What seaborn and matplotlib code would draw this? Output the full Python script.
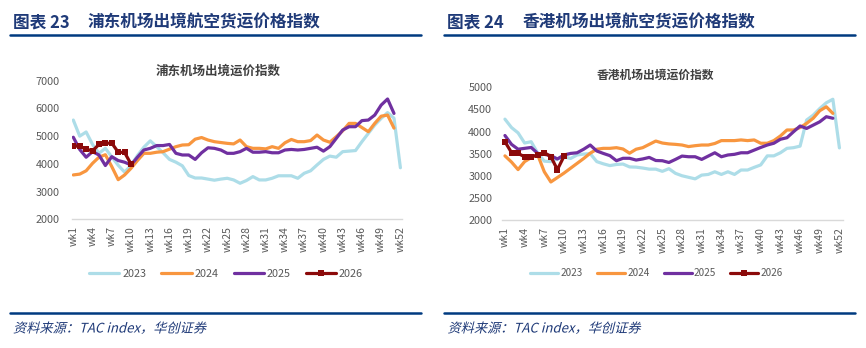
import numpy as np
import pandas as pd
import matplotlib
matplotlib.use("Agg")
import matplotlib.pyplot as plt
import seaborn as sns
from matplotlib.lines import Line2D
from matplotlib.patheffects import AbstractPathEffect
from matplotlib.transforms import Affine2D

# ---------------- data ----------------
weeks = [f"wk{i}" for i in range(1, 53)]
tick_weeks = [f"wk{i}" for i in range(1, 53, 3)]
years = ["2023", "2024", "2025", "2026"]

pvg_2023 = [5580, 5000, 5150, 4700, 4380, 4560, 4250, 3950, 3700, 3950, 4300, 4600, 4830,
            4620, 4400, 4160, 4060, 3930, 3580, 3490, 3490, 3450, 3410, 3450, 3480, 3420,
            3300, 3400, 3540, 3420, 3420, 3480, 3570, 3570, 3570, 3480, 3660, 3750, 3960,
            4160, 4280, 4240, 4440, 4460, 4480, 4800, 5100, 5400, 5640, 5850, 5650, 3860]
pvg_2024 = [3600, 3630, 3750, 4020, 4240, 4330, 3900, 3430, 3600, 3840, 4120, 4380, 4380,
            4420, 4440, 4530, 4620, 4680, 4690, 4890, 4950, 4860, 4800, 4770, 4740, 4720,
            4860, 4620, 4560, 4560, 4540, 4620, 4560, 4760, 4880, 4800, 4800, 4840, 5040,
            4860, 4780, 4980, 5190, 5460, 5460, 5310, 5160, 5460, 5720, 5760, 5290]
pvg_2025 = [4960, 4520, 4240, 4440, 4320, 3940, 4260, 4120, 4060, 3960, 4240, 4500, 4560,
            4660, 4660, 4700, 4380, 4320, 4320, 4160, 4400, 4580, 4560, 4500, 4380, 4380,
            4440, 4560, 4420, 4420, 4440, 4400, 4400, 4500, 4520, 4500, 4520, 4560, 4600,
            4460, 4620, 4920, 5220, 5340, 5340, 5560, 5580, 5760, 6120, 6340, 5820]
pvg_2026 = [4650, 4630, 4530, 4470, 4700, 4740, 4750, 4420, 4410, 3990]

hkg_2023 = [4280, 4090, 3970, 3740, 3770, 3510, 3330, 3320, 3380, 3430, 3390, 3470, 3490,
            3500, 3320, 3270, 3230, 3255, 3265, 3200, 3195, 3175, 3150, 3150, 3100, 3160,
            3055, 3000, 2965, 2930, 3015, 3030, 3090, 3030, 3090, 3030, 3130, 3130, 3190,
            3245, 3450, 3450, 3520, 3620, 3635, 3670, 4260, 4370, 4520, 4650, 4730, 3630]
hkg_2024 = [3450, 3310, 3140, 3320, 3410, 3470, 3090, 2860, 2960, 3060, 3170, 3280, 3390,
            3510, 3600, 3620, 3620, 3635, 3605, 3510, 3600, 3635, 3710, 3785, 3740, 3720,
            3710, 3695, 3660, 3680, 3695, 3695, 3730, 3795, 3795, 3795, 3810, 3795, 3810,
            3735, 3735, 3795, 3900, 4035, 4035, 4090, 4185, 4300, 4470, 4560, 4410]
hkg_2025 = [3910, 3710, 3600, 3620, 3640, 3505, 3485, 3455, 3380, 3470, 3505, 3520, 3600,
            3695, 3560, 3505, 3455, 3340, 3395, 3395, 3355, 3380, 3415, 3345, 3340, 3300,
            3370, 3445, 3430, 3430, 3370, 3445, 3520, 3430, 3470, 3485, 3520, 3520, 3580,
            3640, 3695, 3735, 3825, 3860, 3995, 4125, 4070, 4145, 4220, 4335, 4300]
hkg_2026 = [3770, 3525, 3505, 3430, 3430, 3470, 3525, 3430, 3140, 3440]

colors = {"2023": "#ADDDE8", "2024": "#F8963F", "2025": "#7030A0", "2026": "#8B0A0A"}

# ---------------- style ----------------
sns.set_theme(style="white")
plt.rcParams["font.family"] = ["Noto Sans CJK SC", "DejaVu Sans"]
NAVY = "#1F3A78"
GRAY = "#595959"

fig = plt.figure(figsize=(8.66, 3.48), dpi=100)
W, H = 866, 348


class Slant(AbstractPathEffect):
    """Draw text glyphs with a synthetic italic slant."""
    def __init__(self, deg=14):
        super().__init__()
        self._skew = Affine2D().skew_deg(deg, 0)

    def draw_path(self, renderer, gc, tpath, affine, rgbFace=None):
        renderer.draw_path(gc, tpath, self._skew + affine, rgbFace)


def fx(px):
    return px / W


def fy(py):
    return 1 - py / H


def make_df(series):
    rows = []
    for yr, vals in zip(years, series):
        for i, v in enumerate(vals):
            rows.append({"idx": i, "week": weeks[i], "value": v, "year": yr})
    return pd.DataFrame(rows)


def panel(rect, series, ylim, yticks, ytick_size, ypad, subtitle, sub_xy, sub_size,
          leg_xy, leg_size, xlim):
    ax = fig.add_axes(rect)
    df = make_df(series)
    for yr in years:
        d = df[df["year"] == yr]
        kw = dict(marker="s", markersize=4.5, markeredgewidth=0) if yr == "2026" else {}
        sns.lineplot(data=d, x="idx", y="value", ax=ax, color=colors[yr], linewidth=2.3,
                     label=yr, legend=False, **kw)
    ax.set_xlim(*xlim)
    ax.set_ylim(*ylim)
    ax.set_yticks(yticks)
    ax.set_yticklabels([str(t) for t in yticks])
    ax.set_xticks(list(range(0, 52, 3)))
    ax.set_xticklabels(tick_weeks, rotation=90)
    ax.tick_params(axis="y", length=0, pad=ypad, labelsize=ytick_size, labelcolor=GRAY)
    ax.tick_params(axis="x", length=0, pad=5, labelsize=7.5, labelcolor=GRAY)
    ax.set_xlabel("")
    ax.set_ylabel("")
    for s in ["top", "right", "left"]:
        ax.spines[s].set_visible(False)
    ax.spines["bottom"].set_color("#D9D9D9")
    ax.spines["bottom"].set_linewidth(1.0)
    ax.grid(False)
    fig.text(fx(sub_xy[0]), fy(sub_xy[1]), subtitle, ha="center", va="center",
             fontsize=sub_size, fontweight="bold", color="#404040")
    handles = [Line2D([], [], color=colors[y], linewidth=2.3,
                      marker="s" if y == "2026" else None, markersize=4.5,
                      markeredgewidth=0) for y in years]
    leg = fig.legend(handles, years, loc="center", bbox_to_anchor=(fx(leg_xy[0]), fy(leg_xy[1])),
                     ncol=4, frameon=False, fontsize=leg_size, handlelength=2.8,
                     handletextpad=0.25, columnspacing=1.4, borderpad=0)
    for t in leg.get_texts():
        t.set_color(GRAY)
    return ax


# left panel
panel([fx(71.7), fy(219.3), fx(402) - fx(71.7), fy(80.7) - fy(219.3)],
      [pvg_2023, pvg_2024, pvg_2025, pvg_2026], (2000, 7000),
      [2000, 3000, 4000, 5000, 6000, 7000], 7.8, 8.5,
      "浦东机场出境运价指数", (218, 71.5), 9, (226, 274), 7.8, (-0.25, 51.25))

# right panel
panel([fx(502), fy(220), fx(842.7) - fx(502), fy(87.3) - fy(220)],
      [hkg_2023, hkg_2024, hkg_2025, hkg_2026], (2000, 5000),
      [2000, 2500, 3000, 3500, 4000, 4500, 5000], 7.8, 7,
      "香港机场出境运价指数", (655, 75), 8.5, (656.5, 273.5), 7.2, (-0.45, 51.5))

# headers, rules and source notes
for x0, x1, num, name in [(10, 421, "23", "浦东机场出境航空货运价格指数"),
                          (444.5, 855, "24", "香港机场出境航空货运价格指数")]:
    fig.text(fx(x0 + 3), fy(22.5), f"图表 {num}", ha="left", va="center",
             fontsize=12, fontweight="bold", color=NAVY)
    fig.text(fx(x0 + 78), fy(22.5), name, ha="left", va="center",
             fontsize=12, fontweight="bold", color=NAVY)
    fig.add_artist(Line2D([fx(x0), fx(x1)], [fy(35), fy(35)], color="#003A80", linewidth=1.8))
    fig.add_artist(Line2D([fx(x0), fx(x1)], [fy(312.5), fy(312.5)], color="#003A80", linewidth=1.8))
    fig.text(fx(x0 + 3), fy(329), "资料来源：TAC index，华创证券", ha="left", va="center",
             fontsize=9.5, style="italic", color=NAVY, path_effects=[Slant(14)])

fig.savefig("out.png", dpi=100)
